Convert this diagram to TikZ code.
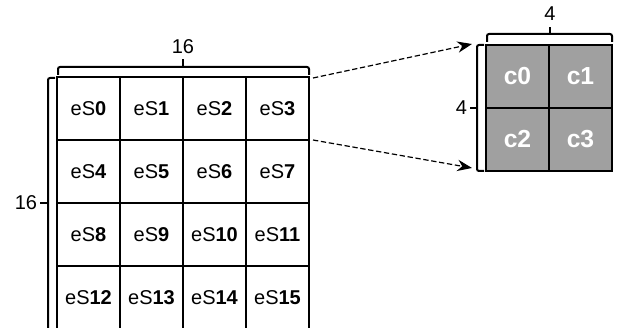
\documentclass[tikz,border=0pt]{standalone}
\usepackage{fontspec}
\setmainfont{Liberation Sans}
\usetikzlibrary{arrows.meta,positioning}
\definecolor{cellgray}{RGB}{160,160,160}

\begin{document}
\begin{tikzpicture}[
    x=0.75pt, y=-0.75pt,
    font=\fontsize{15}{18}\selectfont,
    cell/.style={rectangle, draw, line width=1.5pt, minimum size=47.25pt, inner sep=0pt, text centered},
    ecell/.style={cell, fill=white},
    ccell/.style={cell, fill=cellgray, text=white, font=\fontsize{18.5}{21}\selectfont\bfseries},
    brace/.style={line width=1.5pt, rounded corners=1.5pt},
    dim/.style={inner sep=0pt},
    arrow/.style={-{Stealth[length=11pt,width=8.5pt]}, line width=0.9pt, dash pattern=on 4pt off 2pt}
]
\useasboundingbox (0,0) rectangle (626,328);
\clip (0,0) rectangle (626,328);

% Big grid (16x16)
\foreach \r in {0,...,3} {
  \foreach \c in {0,...,3} {
    \pgfmathtruncatemacro{\idx}{4*\r+\c}
    \node[ecell] (eS\idx) at ({88.5+63*\c},{108.5+63*\r}) {eS\textbf{\idx}};
  }
}

% Small grid (4x4)
\foreach \r in {0,1} {
  \foreach \c in {0,1} {
    \pgfmathtruncatemacro{\idx}{2*\r+\c}
    \node[ccell] (c\idx) at ({517.5+63*\c},{76.5+63*\r}) {c\idx};
  }
}

% Braces and sizes
\draw[brace] (58,75) |- (309,67) -- (309,75);
\draw[line width=1.5pt] (183,67) -- (183,59);
\node[dim] (topsize) at (183,47) {16};

\draw[brace] (55,78) -| (48,345);
\draw[line width=1.5pt] (48,203) -- (40,203);
\node[dim, left=2pt of {(40,203)}] (leftsize) {16};

\draw[brace] (487,42) |- (612,34) -- (612,42);
\draw[line width=1.5pt] (549.5,34) -- (549.5,27);
\node[dim] (smalltop) at (550,14) {4};

\draw[brace] (484,45) -| (477,171) -- (484,171);
\draw[line width=1.5pt] (477,108) -- (470,108);
\node[dim, left=2pt of {(470,108)}] (smallleft) {4};

% Arrows
\coordinate (fromtop) at (313,78);
\coordinate (frombot) at (313,140);
\coordinate (totop) at (472,44);
\coordinate (tobot) at (472,168);
\draw[arrow] (fromtop) -- (totop);
\draw[arrow] (frombot) -- (tobot);

\end{tikzpicture}
\end{document}
